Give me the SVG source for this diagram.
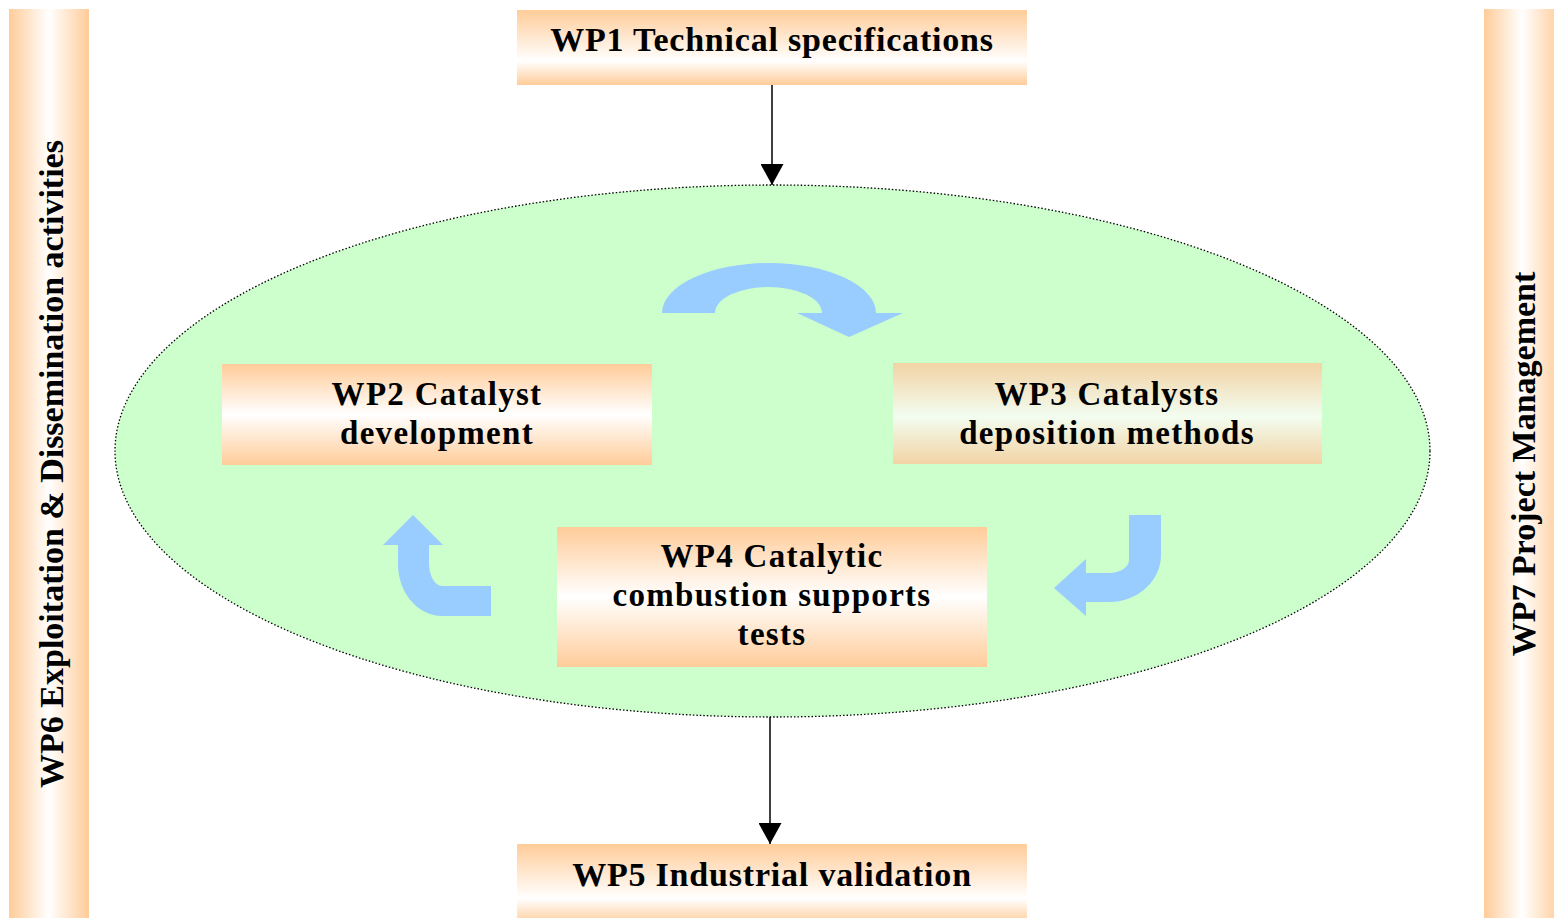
<svg xmlns="http://www.w3.org/2000/svg" width="1554" height="918" viewBox="0 0 1554 918">
<defs>
<linearGradient id="gTop" x1="0" y1="0" x2="0" y2="1">
<stop offset="0" stop-color="#FFCC99"/><stop offset="0.68" stop-color="#FFFFFF"/><stop offset="1" stop-color="#FFCC99"/>
</linearGradient>
<linearGradient id="gBox" x1="0" y1="0" x2="0" y2="1">
<stop offset="0" stop-color="#FFCC99"/><stop offset="0.5" stop-color="#FFFFFF"/><stop offset="1" stop-color="#FFCC99"/>
</linearGradient>
<linearGradient id="gWP3" x1="0" y1="0" x2="0" y2="1">
<stop offset="0" stop-color="#F2D3A5"/><stop offset="0.53" stop-color="#F2FDF0"/><stop offset="1" stop-color="#F2D3A5"/>
</linearGradient>
<linearGradient id="gSide" x1="0" y1="0" x2="1" y2="0">
<stop offset="0" stop-color="#FFCC99"/><stop offset="0.5" stop-color="#FFFFFF"/><stop offset="1" stop-color="#FFCC99"/>
</linearGradient>
<marker id="ah" viewBox="0 0 21 23" refX="21" refY="11.5" markerWidth="21" markerHeight="23" markerUnits="userSpaceOnUse" orient="auto">
<path d="M0,0 L21,11.5 L0,23 Z" fill="#000"/>
</marker>
<style>
text{font-family:"Liberation Serif","Times New Roman",serif;font-weight:bold;fill:#000;text-anchor:middle}
.big{font-size:34px;letter-spacing:0.8px}
.mid{font-size:33px;letter-spacing:1.3px}
.side{font-size:34px}
.conn{stroke:#000;stroke-width:1.5;fill:none}
.cyc{fill:#99CCFF}
</style>
</defs>

<g id="WP6">
<rect x="9" y="9" width="80" height="915" fill="url(#gSide)"/>
<text class="side" transform="translate(63,464) rotate(-90)">WP6 Exploitation &amp; Dissemination activities</text>
</g>
<g id="WP7">
<rect x="1484" y="9" width="76" height="915" fill="url(#gSide)"/>
<text class="side" transform="translate(1535,464) rotate(-90)">WP7 Project Management</text>
</g>

<g id="cycle">
<ellipse cx="772.5" cy="451" rx="657.5" ry="266" fill="#CCFFCC" stroke="#000" stroke-width="1.3" stroke-dasharray="1.5 2"/>
</g>

<g id="WP1">
<rect x="517" y="10" width="510" height="75" fill="url(#gTop)"/>
<text class="big" x="772" y="51">WP1 Technical specifications</text>
</g>
<g id="WP5">
<rect x="517" y="844" width="510" height="80" fill="url(#gTop)"/>
<text class="big" x="772" y="886">WP5 Industrial validation</text>
</g>
<g id="WP2">
<rect x="222" y="364" width="430" height="101" fill="url(#gBox)"/>
<text class="mid" x="437" y="405">WP2 Catalyst</text>
<text class="mid" x="437" y="444">development</text>
</g>
<g id="WP3">
<rect x="893" y="363" width="429" height="101" fill="url(#gWP3)"/>
<text class="mid" x="1107" y="405">WP3 Catalysts</text>
<text class="mid" x="1107" y="444">deposition methods</text>
</g>
<g id="WP4">
<rect x="557" y="527" width="430" height="140" fill="url(#gBox)"/>
<text class="mid" x="772" y="567">WP4 Catalytic</text>
<text class="mid" x="772" y="606">combustion supports</text>
<text class="mid" x="772" y="645">tests</text>
</g>

<g id="connectors">
<line class="conn" x1="772" y1="85" x2="772" y2="185" marker-end="url(#ah)"/>
<line class="conn" x1="770" y1="717" x2="770" y2="844" marker-end="url(#ah)"/>
<path class="cyc" d="M662,313 A107,50 0 0 1 876,313 L903,313 L849,337 L797,313 L822,313 A53.5,26 0 0 0 715,313 Z"/>
<path class="cyc" d="M1129,515 L1161,515 L1161,555 A52,47 0 0 1 1109,602 L1086,602 L1086,616 L1054,588 L1086,559 L1086,573 L1109,573 A20,13 0 0 0 1129,560 Z"/>
<path class="cyc" d="M413,515 L443,545 L429,545 L429,563 A13,23 0 0 0 442,586 L491,586 L491,616 L442,616 A44,52 0 0 1 398,564 L398,545 L383,545 Z"/>
</g>
</svg>
